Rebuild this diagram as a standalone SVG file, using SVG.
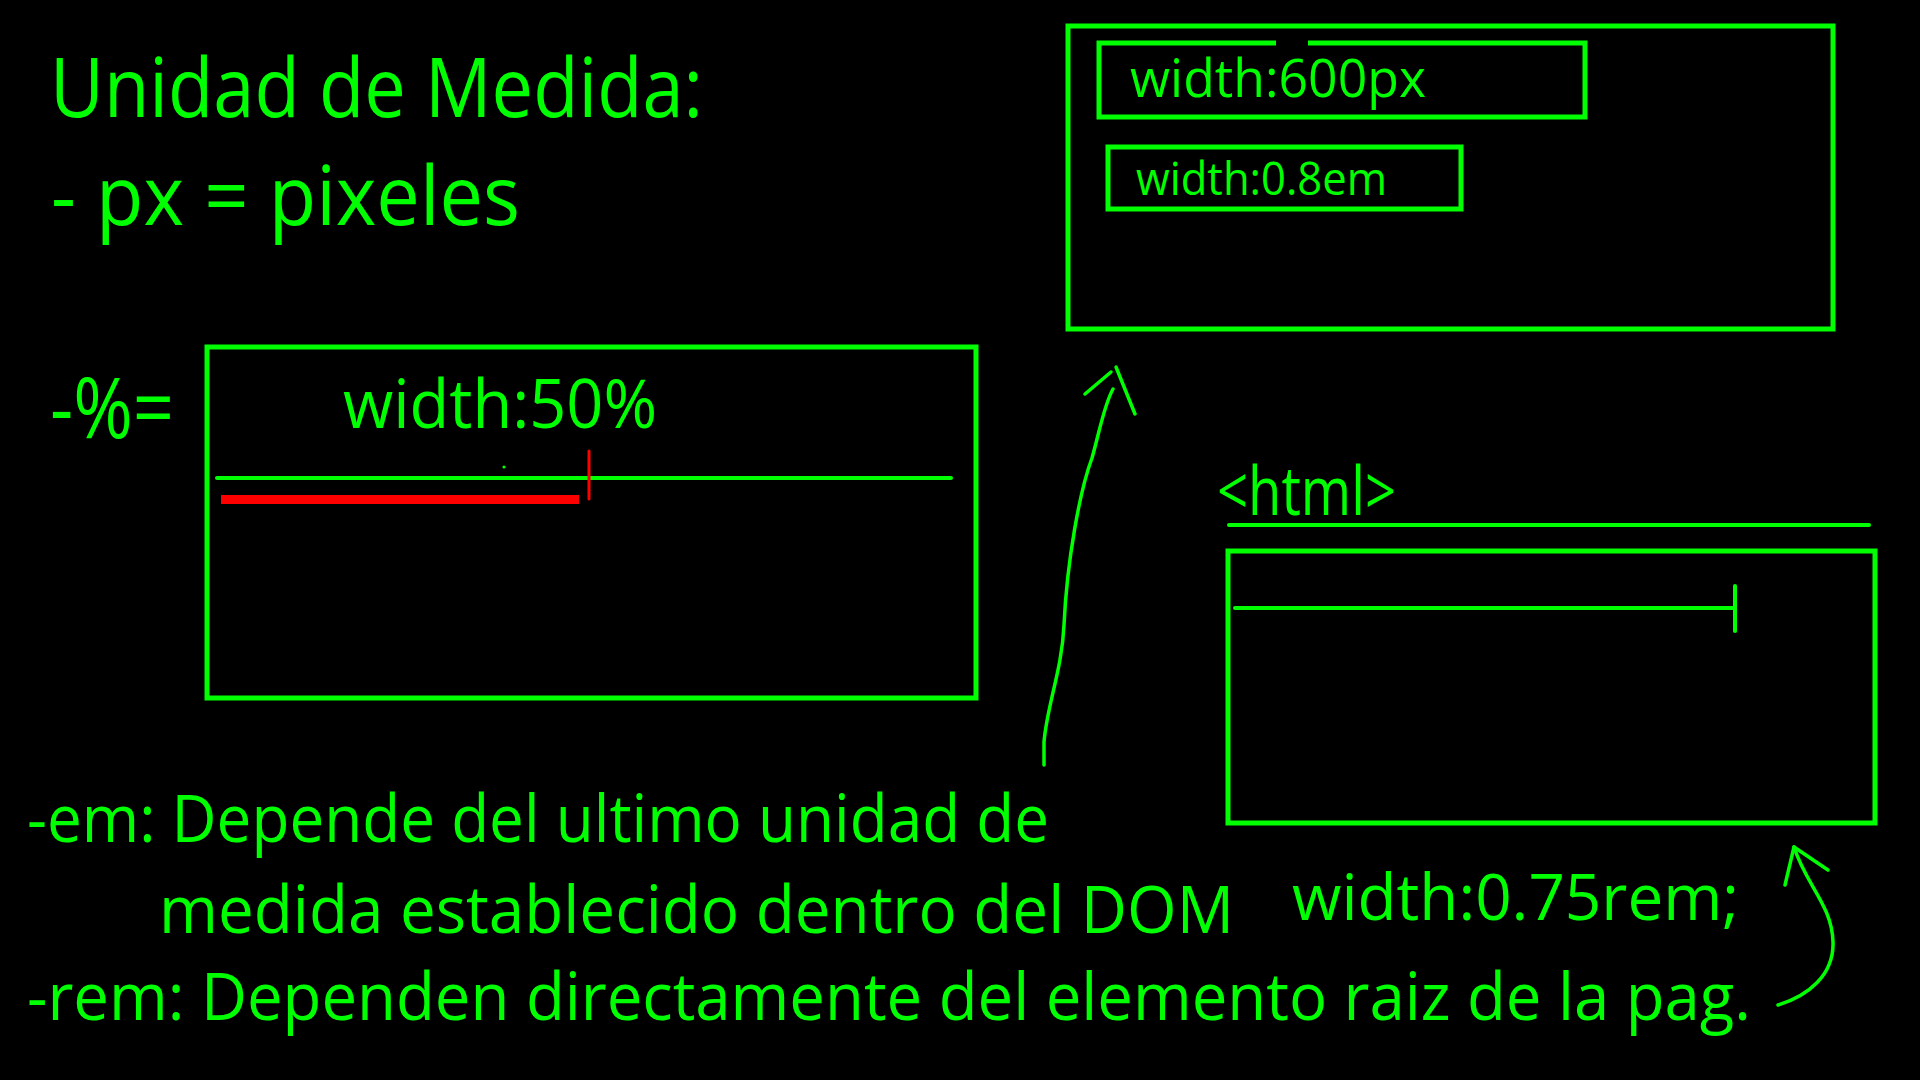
<svg xmlns="http://www.w3.org/2000/svg" width="1920" height="1080" viewBox="0 0 1920 1080">
  <style>
    .t { font-family: "Open Sans", "Noto Sans", "DejaVu Sans", sans-serif; fill: #00ff00; }
    .box { fill: none; stroke: #00ff00; stroke-width: 5; }
    .thin { fill: none; stroke: #00ff00; stroke-width: 4; stroke-linecap: round; }
    .ink { fill: none; stroke: #00ff00; stroke-width: 3.5; stroke-linecap: round; stroke-linejoin: round; }
  </style>
  <rect width="1920" height="1080" fill="#000000"/>

  <!-- heading -->
  <g id="heading">
    <text class="t" x="50" y="117" font-size="82" textLength="653" lengthAdjust="spacingAndGlyphs">Unidad de Medida:</text>
    <text class="t" x="51" y="225" font-size="82" textLength="469" lengthAdjust="spacingAndGlyphs">- px = pixeles</text>
  </g>

  <!-- percent example -->
  <g id="percent">
    <text class="t" x="50" y="438" font-size="84" textLength="124" lengthAdjust="spacingAndGlyphs">-%=</text>
    <rect class="box" x="207" y="347" width="769" height="351"/>
    <text class="t" x="343" y="428" font-size="68" textLength="314" lengthAdjust="spacingAndGlyphs">width:50%</text>
    <line class="thin" x1="217" y1="478" x2="951" y2="478" stroke-width="4.5"/>
    <circle cx="504" cy="467" r="1.6" fill="#00ff00"/>
    <rect x="221" y="495" width="358" height="9" fill="#ff0000"/>
    <line x1="589" y1="451" x2="589" y2="499" stroke="#ff0000" stroke-width="3" stroke-linecap="round"/>
  </g>

  <!-- em example: nested boxes -->
  <g id="em-boxes">
    <rect class="box" x="1068" y="26" width="765" height="303"/>
    <path class="box" stroke-width="4.5" d="M1276 43 H1099 V117 H1585 V43 H1308"/>
    <text class="t" x="1130" y="97" font-size="53" textLength="296" lengthAdjust="spacingAndGlyphs">width:600px</text>
    <rect class="box" stroke-width="4.5" x="1108" y="147" width="353" height="62"/>
    <text class="t" x="1136" y="195" font-size="46" textLength="251" lengthAdjust="spacingAndGlyphs">width:0.8em</text>
  </g>

  <!-- rem example: root element -->
  <g id="html-root">
    <text class="t" x="1217" y="515" font-size="68" textLength="179" lengthAdjust="spacingAndGlyphs">&lt;html&gt;</text>
    <line class="thin" x1="1229" y1="525" x2="1869" y2="525"/>
    <rect class="box" x="1228" y="551" width="647" height="272"/>
    <line class="thin" x1="1235" y1="608" x2="1735" y2="608"/>
    <line class="thin" x1="1735" y1="586" x2="1735" y2="631" stroke-width="3"/>
    <text class="t" x="1292" y="920" font-size="64" textLength="447" lengthAdjust="spacingAndGlyphs">width:0.75rem;</text>
  </g>

  <!-- notes -->
  <g id="notes">
    <text class="t" x="27" y="842" font-size="66" textLength="1022" lengthAdjust="spacingAndGlyphs">-em: Depende del ultimo unidad de</text>
    <text class="t" x="159" y="933" font-size="66" textLength="1075" lengthAdjust="spacingAndGlyphs">medida establecido dentro del DOM</text>
    <text class="t" x="27" y="1020" font-size="66" textLength="1724" lengthAdjust="spacingAndGlyphs">-rem: Dependen directamente del elemento raiz de la pag.</text>
  </g>

  <!-- hand-drawn arrows -->
  <g id="connectors">
    <path class="ink" d="M1044 765 L1044 742 C1047 705 1062 670 1064 625 C1067 560 1080 490 1092 458 C1100 430 1104 405 1113 389"/>
    <path class="ink" d="M1085 394 L1111 372 M1116 367 L1135 414"/>
    <path class="ink" d="M1778 1005 C1808 996 1834 975 1833 942 C1832 905 1806 885 1794 847"/>
    <path class="ink" d="M1785 885 L1794 847 L1828 870"/>
  </g>
</svg>
